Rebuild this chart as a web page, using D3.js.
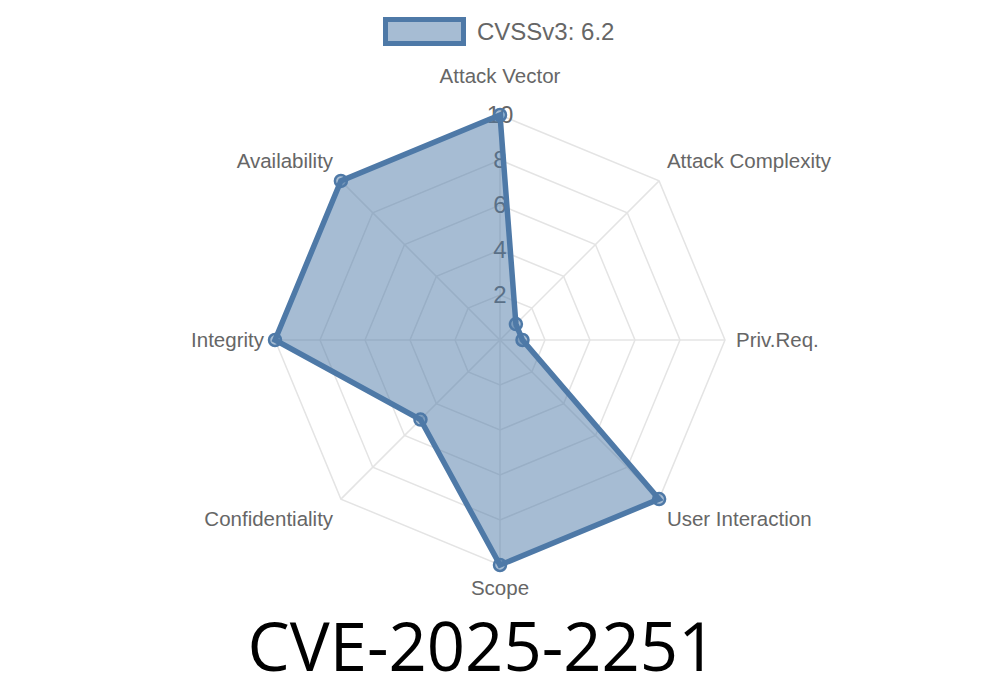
<!DOCTYPE html>
<html><head><meta charset="utf-8">
<script src="https://cdn.jsdelivr.net/npm/d3@7"></script>
<style>body{margin:0;background:#fff}svg{display:block}</style>
</head><body>
<svg id="c" width="1000" height="700"></svg>
<script>
const axes = ["Attack Vector","Attack Complexity","Priv.Req.","User Interaction","Scope","Confidentiality","Integrity","Availability"];
const values = [10, 1, 1, 10, 10, 5, 10, 10];
const ticks = [2, 4, 6, 8, 10];
const seriesLabel = "CVSSv3: 6.2";
const title = "CVE-2025-2251";

const svg = d3.select("#c");
const cx = 500, cy = 340, R = 225;
const color = "#4e79a7", fill = "rgba(78,121,167,0.5)", grid = "#e4e4e4", txt = "#666";
const r = d3.scaleLinear().domain([0, 10]).range([0, R]);
const ang = d3.scaleLinear().domain([0, axes.length]).range([0, 2 * Math.PI]);
const pt = (i, v) => [cx + r(v) * Math.sin(ang(i)), cy - r(v) * Math.cos(ang(i))];

const g = svg.append("g");
ticks.forEach(t => {
  g.append("polygon")
    .attr("points", axes.map((a, i) => pt(i, t).join(",")).join(" "))
    .attr("fill", "none").attr("stroke", grid).attr("stroke-width", 1.5);
});
axes.forEach((a, i) => {
  const [x, y] = pt(i, 10);
  g.append("line").attr("x1", cx).attr("y1", cy).attr("x2", x).attr("y2", y)
    .attr("stroke", grid).attr("stroke-width", 1.5);
});
ticks.forEach(t => {
  g.append("text").attr("x", cx).attr("y", cy - r(t)).attr("dy", "0.35em")
    .attr("text-anchor", "middle").attr("font-family", "Liberation Sans, Arial, sans-serif")
    .attr("font-size", 24).attr("fill", txt).text(t);
});
axes.forEach((a, i) => {
  const an = ang(i);
  const s = Math.sin(an), c = Math.cos(an);
  const lr = 236;
  let x = cx + lr * s, y = cy - lr * c;
  let anchor = Math.abs(s) < 0.01 ? "middle" : (s > 0 ? "start" : "end");
  if (c > 0.99) y -= 28; else if (c < -0.99) y += 12; else if (c > 0.01) y -= 12; else if (c < -0.01) y += 12;
  g.append("text").attr("x", x).attr("y", y).attr("dy", "0.35em")
    .attr("text-anchor", anchor).attr("font-family", "Liberation Sans, Arial, sans-serif")
    .attr("font-size", 20.5).attr("fill", txt).text(a);
});
const line = d3.lineRadial().angle((d, i) => ang(i)).radius(d => r(d)).curve(d3.curveLinearClosed);
g.append("path").attr("transform", `translate(${cx},${cy})`).attr("d", line(values))
  .attr("fill", fill).attr("stroke", color).attr("stroke-width", 5.5).attr("stroke-linejoin", "miter");
values.forEach((v, i) => {
  const [x, y] = pt(i, v);
  g.append("circle").attr("cx", x).attr("cy", y).attr("r", 6)
    .attr("fill", fill).attr("stroke", color).attr("stroke-width", 2.5);
});
svg.append("rect").attr("x", 385.5).attr("y", 19.5).attr("width", 78).attr("height", 24)
  .attr("fill", "#a6bcd3").attr("stroke", color).attr("stroke-width", 5);
svg.append("text").attr("x", 477).attr("y", 32).attr("dy", "0.35em")
  .attr("font-family", "Liberation Sans, Arial, sans-serif").attr("font-size", 24).attr("fill", txt)
  .text(seriesLabel);
svg.append("text").attr("x", 482).attr("y", 671).attr("text-anchor", "middle")
  .attr("font-family", "Open Sans, Noto Sans, sans-serif").attr("font-size", 67).attr("fill", "#000")
  .text(title);
</script>
</body></html>
